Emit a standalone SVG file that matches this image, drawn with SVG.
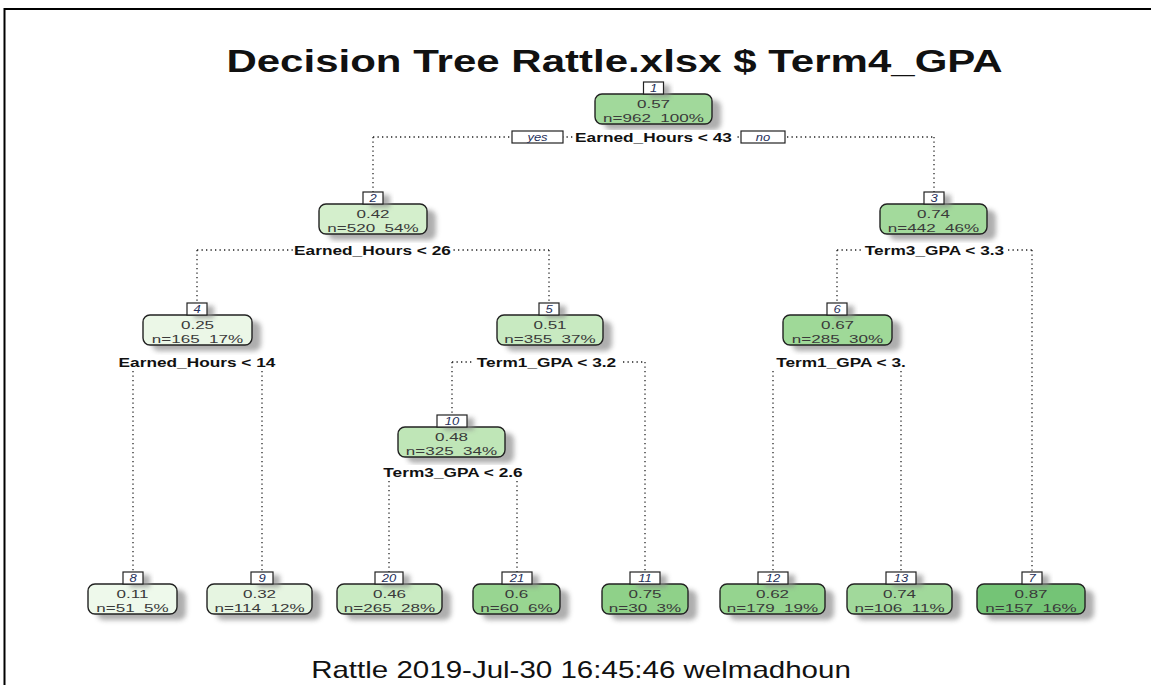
<svg xmlns="http://www.w3.org/2000/svg" width="1151" height="685" viewBox="0 0 1151 685">
  <style>
    .frame { fill: none; stroke: #000; }
    .title { font-family: "Liberation Sans", Arial, sans-serif; font-weight: bold; font-size: 31px; fill: #111; text-anchor: middle; }
    .foot { font-family: "Liberation Sans", Arial, sans-serif; font-size: 24px; fill: #111; text-anchor: middle; }
    .edge { fill: none; stroke: #222; stroke-width: 1.3; stroke-dasharray: 1.3 3.2; }
    .box { stroke: #222; stroke-width: 1.4; }
    .tag { fill: #fff; stroke: #222; stroke-width: 1.2; }
    .sh { fill: #8c8c8c; opacity: 0.7; filter: url(#blur); }
    .bg { fill: #fff; }
    .v { font-family: "Liberation Sans", Arial, sans-serif; font-size: 11px; fill: #3a3a3a; text-anchor: middle; white-space: pre; }
    .s { font-family: "Liberation Sans", Arial, sans-serif; font-weight: bold; font-size: 12px; fill: #111; text-anchor: middle; }
    .n { font-family: "Liberation Sans", Arial, sans-serif; font-style: italic; font-size: 10px; fill: #26305a; text-anchor: middle; }
  </style>
  <defs>
    <filter id="blur" x="-20%" y="-40%" width="140%" height="180%">
      <feGaussianBlur stdDeviation="2.5"/>
    </filter>
  </defs>

  <rect width="1151" height="685" fill="#fff"/>
  <path class="frame" d="M4.5,685 V9 H1151" stroke-width="2"/>

  <text class="title" transform="translate(614.5,72) scale(1.356,1)">Decision Tree Rattle.xlsx $ Term4_GPA</text>

  <!-- dotted branch lines -->
  <g id="connectors">
    <path class="edge" d="M373,137 H934 M373,137 V192 M934,137 V192"/>
    <path class="edge" d="M197,250 H549 M197,250 V303 M549,250 V303"/>
    <path class="edge" d="M837,250 H1032 M837,250 V303 M1032,250 V572"/>
    <path class="edge" d="M133,362 H262 M133,362 V572 M262,362 V572"/>
    <path class="edge" d="M452,362 H645 M452,362 V415 M645,362 V572"/>
    <path class="edge" d="M773,362 H901 M773,362 V572 M901,362 V572"/>
    <path class="edge" d="M389,472 H517 M389,472 V572 M517,472 V572"/>
  </g>

  <!-- node 1 (root) -->
  <g id="node-1">
    <rect class="sh" x="604" y="100" width="117" height="30" rx="7"/>
    <rect class="box" x="595" y="94" width="117" height="30" rx="7" fill="#a1d99b"/>
    <rect class="sh" x="650" y="85" width="20" height="12"/>
    <rect class="tag" x="643.5" y="82" width="20" height="12"/>
    <text class="n" transform="translate(653.5,91.5) scale(1.3,1)">1</text>
    <text class="v" transform="translate(653.5,107.5) scale(1.55,1)">0.57</text>
    <text class="v" transform="translate(653.5,122) scale(1.55,1)">n=962  100%</text>
    <rect class="bg" x="573" y="130" width="162" height="14"/>
    <text class="s" transform="translate(653.5,141.5) scale(1.44,1)">Earned_Hours &lt; 43</text>
    <rect class="tag" x="512" y="131" width="51" height="12"/>
    <text class="n" transform="translate(537.5,140.5) scale(1.3,1)">yes</text>
    <rect class="tag" x="741" y="131" width="44" height="12"/>
    <text class="n" transform="translate(763,140.5) scale(1.3,1)">no</text>
  </g>

  <!-- node 2 -->
  <g id="node-2">
    <rect class="sh" x="328" y="210" width="108" height="30" rx="7"/>
    <rect class="box" x="319" y="204" width="108" height="30" rx="7" fill="#d4efcc"/>
    <rect class="sh" x="370" y="195" width="20" height="12"/>
    <rect class="tag" x="363" y="192" width="20" height="12"/>
    <text class="n" transform="translate(373,201.5) scale(1.3,1)">2</text>
    <text class="v" transform="translate(373,217.5) scale(1.55,1)">0.42</text>
    <text class="v" transform="translate(373,232) scale(1.55,1)">n=520  54%</text>
    <rect class="bg" x="293" y="243" width="160" height="14"/>
    <text class="s" transform="translate(372.5,254.5) scale(1.44,1)">Earned_Hours &lt; 26</text>
  </g>

  <!-- node 3 -->
  <g id="node-3">
    <rect class="sh" x="889" y="210" width="107" height="30" rx="7"/>
    <rect class="box" x="880" y="204" width="107" height="30" rx="7" fill="#a3da9c"/>
    <rect class="sh" x="931" y="195" width="20" height="12"/>
    <rect class="tag" x="924" y="192" width="20" height="12"/>
    <text class="n" transform="translate(934,201.5) scale(1.3,1)">3</text>
    <text class="v" transform="translate(933.5,217.5) scale(1.55,1)">0.74</text>
    <text class="v" transform="translate(933.5,232) scale(1.55,1)">n=442  46%</text>
    <rect class="bg" x="863" y="243" width="143" height="14"/>
    <text class="s" transform="translate(934.5,254.5) scale(1.44,1)">Term3_GPA &lt; 3.3</text>
  </g>

  <!-- node 4 -->
  <g id="node-4">
    <rect class="sh" x="152" y="321" width="109" height="30" rx="7"/>
    <rect class="box" x="143" y="315" width="109" height="30" rx="7" fill="#ebf7e7"/>
    <rect class="sh" x="194" y="306" width="20" height="12"/>
    <rect class="tag" x="187" y="303" width="20" height="12"/>
    <text class="n" transform="translate(197,312.5) scale(1.3,1)">4</text>
    <text class="v" transform="translate(197.5,328.5) scale(1.55,1)">0.25</text>
    <text class="v" transform="translate(197.5,343) scale(1.55,1)">n=165  17%</text>
    <rect class="bg" x="116" y="355" width="162" height="14"/>
    <text class="s" transform="translate(197,366.5) scale(1.44,1)">Earned_Hours &lt; 14</text>
  </g>

  <!-- node 5 -->
  <g id="node-5">
    <rect class="sh" x="506" y="321" width="106" height="30" rx="7"/>
    <rect class="box" x="497" y="315" width="106" height="30" rx="7" fill="#c8eac1"/>
    <rect class="sh" x="546" y="306" width="20" height="12"/>
    <rect class="tag" x="539" y="303" width="20" height="12"/>
    <text class="n" transform="translate(549,312.5) scale(1.3,1)">5</text>
    <text class="v" transform="translate(550,328.5) scale(1.55,1)">0.51</text>
    <text class="v" transform="translate(550,343) scale(1.55,1)">n=355  37%</text>
    <rect class="bg" x="474" y="355" width="146" height="14"/>
    <text class="s" transform="translate(546.5,366.5) scale(1.44,1)">Term1_GPA &lt; 3.2</text>
  </g>

  <!-- node 6 -->
  <g id="node-6">
    <rect class="sh" x="792" y="321" width="109" height="30" rx="7"/>
    <rect class="box" x="783" y="315" width="109" height="30" rx="7" fill="#9fd998"/>
    <rect class="sh" x="834" y="306" width="20" height="12"/>
    <rect class="tag" x="827" y="303" width="20" height="12"/>
    <text class="n" transform="translate(837,312.5) scale(1.3,1)">6</text>
    <text class="v" transform="translate(837.5,328.5) scale(1.55,1)">0.67</text>
    <text class="v" transform="translate(837.5,343) scale(1.55,1)">n=285  30%</text>
    <rect class="bg" x="771" y="355" width="140" height="14"/>
    <text class="s" transform="translate(841,366.5) scale(1.44,1)">Term1_GPA &lt; 3.</text>
  </g>

  <!-- node 10 -->
  <g id="node-10">
    <rect class="sh" x="407" y="433" width="107" height="30" rx="7"/>
    <rect class="box" x="398" y="427" width="107" height="30" rx="7" fill="#bfe6b7"/>
    <rect class="sh" x="444" y="418" width="30" height="12"/>
    <rect class="tag" x="437" y="415" width="30" height="12"/>
    <text class="n" transform="translate(452,424.5) scale(1.3,1)">10</text>
    <text class="v" transform="translate(451.5,440.5) scale(1.55,1)">0.48</text>
    <text class="v" transform="translate(451.5,455) scale(1.55,1)">n=325  34%</text>
    <rect class="bg" x="380" y="465" width="146" height="14"/>
    <text class="s" transform="translate(453,476.5) scale(1.44,1)">Term3_GPA &lt; 2.6</text>
  </g>

  <!-- leaf 8 -->
  <g id="node-8">
    <rect class="sh" x="97" y="590" width="89" height="30" rx="7"/>
    <rect class="box" x="88" y="584" width="89" height="30" rx="7" fill="#eef9eb"/>
    <rect class="sh" x="130" y="575" width="20" height="12"/>
    <rect class="tag" x="123" y="572" width="20" height="12"/>
    <text class="n" transform="translate(133,581.5) scale(1.3,1)">8</text>
    <text class="v" transform="translate(132.5,597.5) scale(1.55,1)">0.11</text>
    <text class="v" transform="translate(132.5,612) scale(1.55,1)">n=51  5%</text>
  </g>

  <!-- leaf 9 -->
  <g id="node-9">
    <rect class="sh" x="216" y="590" width="105" height="30" rx="7"/>
    <rect class="box" x="207" y="584" width="105" height="30" rx="7" fill="#e6f5e1"/>
    <rect class="sh" x="258" y="575" width="22" height="12"/>
    <rect class="tag" x="251" y="572" width="22" height="12"/>
    <text class="n" transform="translate(262,581.5) scale(1.3,1)">9</text>
    <text class="v" transform="translate(259.5,597.5) scale(1.55,1)">0.32</text>
    <text class="v" transform="translate(259.5,612) scale(1.55,1)">n=114  12%</text>
  </g>

  <!-- leaf 20 -->
  <g id="node-20">
    <rect class="sh" x="346" y="590" width="105" height="30" rx="7"/>
    <rect class="box" x="337" y="584" width="105" height="30" rx="7" fill="#c9ebc2"/>
    <rect class="sh" x="382" y="575" width="28" height="12"/>
    <rect class="tag" x="375" y="572" width="28" height="12"/>
    <text class="n" transform="translate(389,581.5) scale(1.3,1)">20</text>
    <text class="v" transform="translate(389.5,597.5) scale(1.55,1)">0.46</text>
    <text class="v" transform="translate(389.5,612) scale(1.55,1)">n=265  28%</text>
  </g>

  <!-- leaf 21 -->
  <g id="node-21">
    <rect class="sh" x="482" y="590" width="87" height="30" rx="7"/>
    <rect class="box" x="473" y="584" width="87" height="30" rx="7" fill="#98d591"/>
    <rect class="sh" x="509" y="575" width="30" height="12"/>
    <rect class="tag" x="502" y="572" width="30" height="12"/>
    <text class="n" transform="translate(517,581.5) scale(1.3,1)">21</text>
    <text class="v" transform="translate(516.5,597.5) scale(1.55,1)">0.6</text>
    <text class="v" transform="translate(516.5,612) scale(1.55,1)">n=60  6%</text>
  </g>

  <!-- leaf 11 -->
  <g id="node-11">
    <rect class="sh" x="611" y="590" width="86" height="30" rx="7"/>
    <rect class="box" x="602" y="584" width="86" height="30" rx="7" fill="#8fd189"/>
    <rect class="sh" x="637" y="575" width="30" height="12"/>
    <rect class="tag" x="630" y="572" width="30" height="12"/>
    <text class="n" transform="translate(645,581.5) scale(1.3,1)">11</text>
    <text class="v" transform="translate(645,597.5) scale(1.55,1)">0.75</text>
    <text class="v" transform="translate(645,612) scale(1.55,1)">n=30  3%</text>
  </g>

  <!-- leaf 12 -->
  <g id="node-12">
    <rect class="sh" x="729" y="590" width="105" height="30" rx="7"/>
    <rect class="box" x="720" y="584" width="105" height="30" rx="7" fill="#95d48f"/>
    <rect class="sh" x="765" y="575" width="30" height="12"/>
    <rect class="tag" x="758" y="572" width="30" height="12"/>
    <text class="n" transform="translate(773,581.5) scale(1.3,1)">12</text>
    <text class="v" transform="translate(772.5,597.5) scale(1.55,1)">0.62</text>
    <text class="v" transform="translate(772.5,612) scale(1.55,1)">n=179  19%</text>
  </g>

  <!-- leaf 13 -->
  <g id="node-13">
    <rect class="sh" x="856" y="590" width="105" height="30" rx="7"/>
    <rect class="box" x="847" y="584" width="105" height="30" rx="7" fill="#a1d99b"/>
    <rect class="sh" x="893" y="575" width="30" height="12"/>
    <rect class="tag" x="886" y="572" width="30" height="12"/>
    <text class="n" transform="translate(901,581.5) scale(1.3,1)">13</text>
    <text class="v" transform="translate(899.5,597.5) scale(1.55,1)">0.74</text>
    <text class="v" transform="translate(899.5,612) scale(1.55,1)">n=106  11%</text>
  </g>

  <!-- leaf 7 -->
  <g id="node-7">
    <rect class="sh" x="986" y="590" width="108" height="30" rx="7"/>
    <rect class="box" x="977" y="584" width="108" height="30" rx="7" fill="#74c476"/>
    <rect class="sh" x="1029" y="575" width="20" height="12"/>
    <rect class="tag" x="1022" y="572" width="20" height="12"/>
    <text class="n" transform="translate(1032,581.5) scale(1.3,1)">7</text>
    <text class="v" transform="translate(1031,597.5) scale(1.55,1)">0.87</text>
    <text class="v" transform="translate(1031,612) scale(1.55,1)">n=157  16%</text>
  </g>

  <text class="foot" transform="translate(581,678) scale(1.23,1)">Rattle 2019-Jul-30 16:45:46 welmadhoun</text>
</svg>
